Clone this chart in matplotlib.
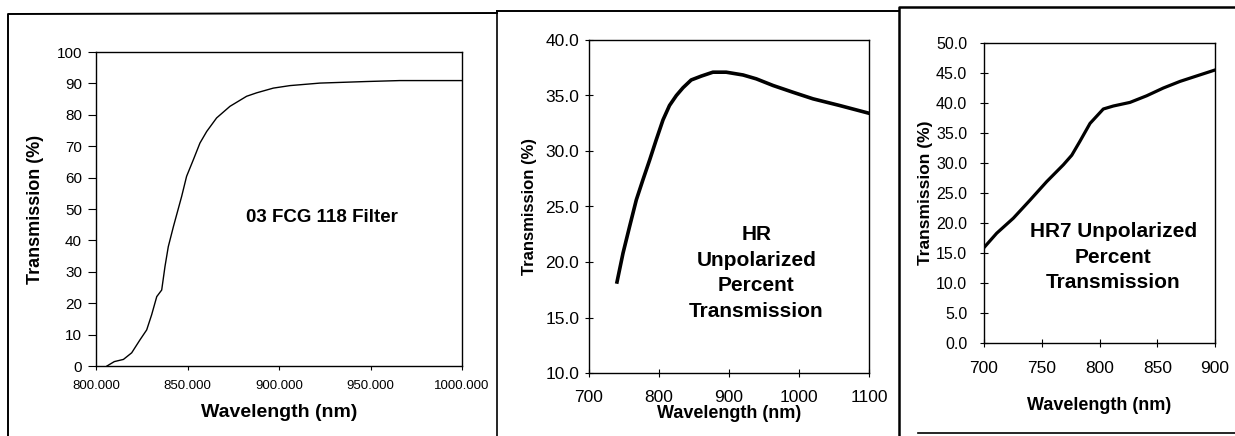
import numpy as np
import matplotlib
matplotlib.use("Agg")
import matplotlib.pyplot as plt
from matplotlib.ticker import FormatStrFormatter

plt.rcParams['font.family'] = ['Liberation Sans', 'DejaVu Sans']

# 03 FCG 118 filter
filt_wl = [806, 810, 815, 819.5, 824, 827.7, 830.4, 833.2, 835.9, 837.7, 839.5, 842.3,
           846.8, 849.5, 853.2, 856.8, 860.5, 865.9, 873.2, 882.3, 887.8, 896.9, 906,
           922.4, 947.9, 966, 1000]
filt_tr = [0, 1.4, 2.1, 4.2, 8.3, 11.5, 16.3, 22.1, 24.2, 31.7, 38, 44.4,
           54, 60.4, 65.7, 71, 74.7, 79, 82.7, 85.9, 87, 88.5, 89.3,
           90.1, 90.6, 90.9, 90.9]

# HR unpolarized
hr_wl = [740, 748.6, 758, 767.6, 777, 786.7, 796, 805.7, 815, 824.8, 834.3, 846,
         860.5, 877, 896, 920, 939, 963, 991, 1020, 1039, 1058, 1100]
hr_tr = [18.2, 20.8, 23.2, 25.6, 27.4, 29.2, 31.0, 32.8, 34.1, 35.0, 35.7, 36.4,
         36.75, 37.1, 37.1, 36.85, 36.5, 35.9, 35.3, 34.7, 34.4, 34.1, 33.4]

# HR7 unpolarized
hr7_wl = [700, 711, 725.4, 739.8, 754.3, 768.7, 776, 783, 791.8, 803.3, 812, 826.4,
          840.8, 855.3, 869.7, 884, 900]
hr7_tr = [15.9, 18.3, 20.8, 23.8, 26.9, 29.7, 31.3, 33.6, 36.6, 39.0, 39.5, 40.1,
          41.2, 42.5, 43.6, 44.5, 45.5]

W, H = 1235, 436
fig = plt.figure(figsize=(W / 100, H / 100), dpi=100)


def add_axes_px(left, top, right, bottom):
    return fig.add_axes([left / W, 1 - bottom / H, (right - left) / W, (bottom - top) / H])


def style(ax):
    for s in ax.spines.values():
        s.set_linewidth(1.0)
        s.set_color('black')


# panel 1
ax1 = add_axes_px(96, 52, 462, 366)
ax1.plot(filt_wl, filt_tr, color='black', lw=1.0)
ax1.set_xlim(800, 1000)
ax1.set_ylim(0, 100)
ax1.set_xticks(np.arange(800, 1001, 50))
ax1.set_yticks(np.arange(0, 101, 10))
ax1.xaxis.set_major_formatter(FormatStrFormatter('%.3f'))
ax1.tick_params(axis='y', direction='out', length=6, labelsize=11, pad=4)
ax1.tick_params(axis='x', direction='out', length=3, labelsize=9.5, pad=7)
ax1.set_xlabel('Wavelength (nm)', fontsize=14, fontweight='bold', labelpad=9)
ax1.set_ylabel('Transmission (%)', fontsize=13, fontweight='bold', labelpad=9)
ax1.text(923.5, 47.3, '03 FCG 118 Filter', fontsize=13.5, fontweight='bold',
         ha='center', va='center')
style(ax1)

# panel 2
ax2 = add_axes_px(589, 40, 869, 373)
ax2.plot(hr_wl, hr_tr, color='black', lw=2.6)
ax2.set_xlim(700, 1100)
ax2.set_ylim(10, 40)
ax2.set_xticks(np.arange(700, 1101, 100))
ax2.set_yticks(np.arange(10, 40.1, 5))
ax2.yaxis.set_major_formatter(FormatStrFormatter('%.1f'))
ax2.tick_params(axis='y', direction='inout', length=6, labelsize=12.5, pad=4)
ax2.tick_params(axis='x', direction='inout', length=6, labelsize=12.5, pad=9)
ax2.set_xlabel('Wavelength (nm)', fontsize=13, fontweight='bold', labelpad=0)
ax2.set_ylabel('Transmission (%)', fontsize=12, fontweight='bold', labelpad=6)
ax2.text(939, 19.0, 'HR\nUnpolarized\nPercent\nTransmission', fontsize=15,
         fontweight='bold', ha='center', va='center', linespacing=1.45)
style(ax2)

# panel 3
ax3 = add_axes_px(984, 43, 1215, 343)
ax3.plot(hr7_wl, hr7_tr, color='black', lw=2.3)
ax3.set_xlim(700, 900)
ax3.set_ylim(0, 50)
ax3.set_xticks(np.arange(700, 901, 50))
ax3.set_yticks(np.arange(0, 50.1, 5))
ax3.yaxis.set_major_formatter(FormatStrFormatter('%.1f'))
ax3.tick_params(axis='y', direction='inout', length=6, labelsize=11.5, pad=9)
ax3.tick_params(axis='x', direction='inout', length=6, labelsize=12.5, pad=10)
ax3.set_xlabel('Wavelength (nm)', fontsize=13, fontweight='bold', labelpad=15)
ax3.set_ylabel('Transmission (%)', fontsize=12.5, fontweight='bold', labelpad=2)
ax3.text(812, 14.3, 'HR7 Unpolarized\nPercent\nTransmission', fontsize=15,
         fontweight='bold', ha='center', va='center', linespacing=1.45)
style(ax3)

# panel frames
frame = fig.add_axes([0, 0, 1, 1], zorder=-1)
frame.set_xlim(0, W)
frame.set_ylim(H, 0)
frame.axis('off')
frame.plot([8, 8, 497], [436, 14, 13], color='black', lw=1.4)
frame.plot([497, 497], [436, 11], color='black', lw=1.2)
frame.plot([497, 899], [11, 11], color='black', lw=1.4)
frame.plot([899, 899, 1235], [436, 7, 7], color='black', lw=1.8)
frame.plot([918, 1235], [433, 433], color='black', lw=1.2)

fig.savefig('out.png', dpi=100)
